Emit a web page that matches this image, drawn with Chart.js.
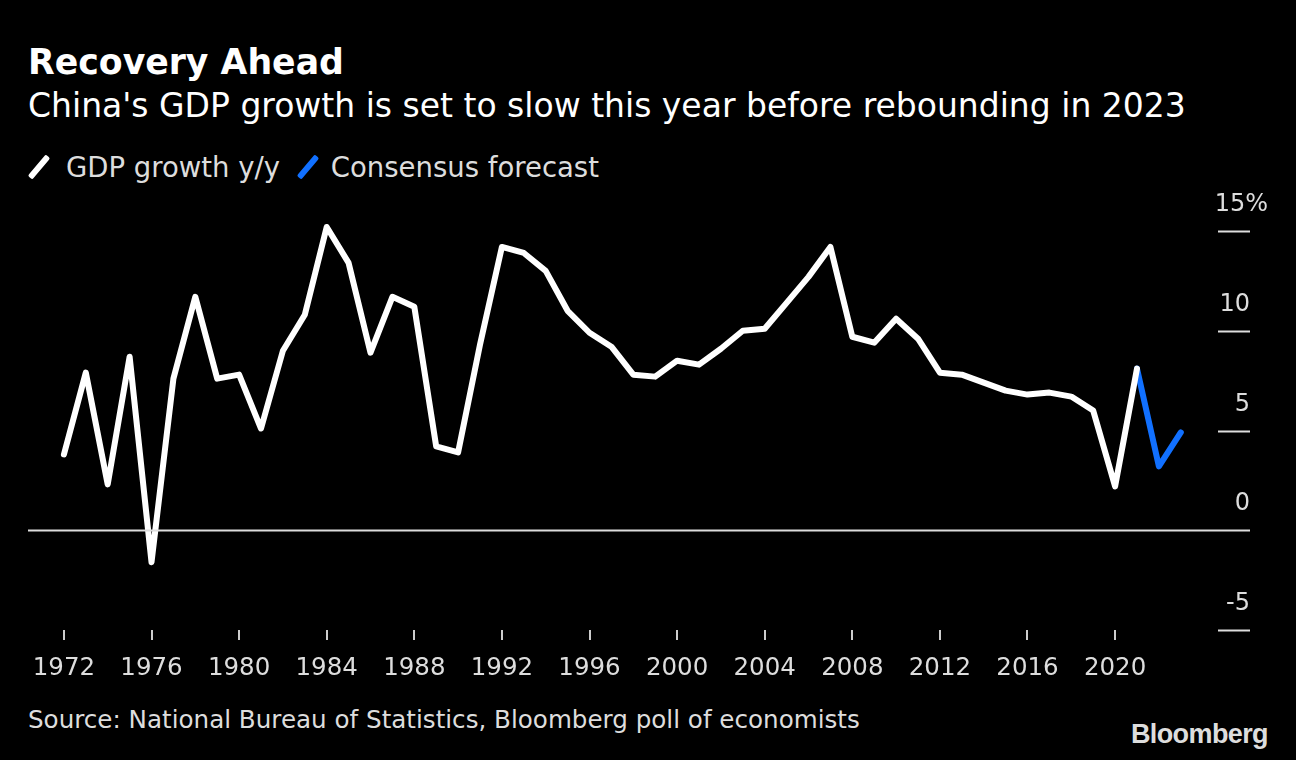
<!DOCTYPE html>
<html>
<head>
<meta charset="utf-8">
<script src="https://cdn.jsdelivr.net/npm/chart.js@4/dist/chart.umd.min.js"></script>
<style>
  html, body { margin: 0; padding: 0; background: #000; }
  body { width: 1296px; height: 760px; position: relative; overflow: hidden;
         font-family: "DejaVu Sans", sans-serif; color: #ddd; }
  .t { position: absolute; white-space: nowrap; line-height: 1; }
  #title { left: 28px; top: 45px; font-size: 34.7px; font-weight: bold; color: #fff; }
  #sub { left: 28px; top: 89px; font-size: 33px; color: #fff; }
  #legend { left: 28px; top: 153px; font-size: 27.5px; color: #ddd; }
  #legend span.sw { display: inline-block; width: 6px; height: 28px; vertical-align: -4px;
                    transform: rotate(40deg); margin: 0 24px 0 8px; border-radius: 2px; }
  #source { left: 28px; top: 708px; font-size: 24.6px; }
  #logo { right: 28px; top: 721px; font-size: 27px; font-weight: bold; letter-spacing: -0.6px;
          font-family: "Liberation Sans", Arial, sans-serif; color: #ddd; }
  #wrap { position: absolute; left: 0; top: 180px; width: 1296px; height: 510px; }
</style>
</head>
<body>
<div class="t" id="title">Recovery Ahead</div>
<div class="t" id="sub">China's GDP growth is set to slow this year before rebounding in 2023</div>
<div class="t" id="legend"><span class="sw" style="background:#fff"></span>GDP growth y/y <span class="sw" style="background:#1170ff;margin-left:16px;margin-right:20px"></span>Consensus forecast</div>
<div id="wrap"><canvas id="myChart"></canvas></div>
<div class="t" id="source">Source: National Bureau of Statistics, Bloomberg poll of economists</div>
<div class="t" id="logo">Bloomberg</div>
<script>
var years = [1972, 1973, 1974, 1975, 1976, 1977, 1978, 1979, 1980, 1981, 1982, 1983,
             1984, 1985, 1986, 1987, 1988, 1989, 1990, 1991, 1992, 1993, 1994, 1995,
             1996, 1997, 1998, 1999, 2000, 2001, 2002, 2003, 2004, 2005, 2006, 2007,
             2008, 2009, 2010, 2011, 2012, 2013, 2014, 2015, 2016, 2017, 2018, 2019,
             2020, 2021];
var gdpGrowth = [3.8, 7.9, 2.3, 8.7, -1.6, 7.6, 11.7, 7.6, 7.8, 5.1, 9.0, 10.8,
                 15.2, 13.4, 8.9, 11.7, 11.2, 4.2, 3.9, 9.3, 14.2, 13.9, 13.0, 11.0,
                 9.9, 9.2, 7.8, 7.7, 8.5, 8.3, 9.1, 10.0, 10.1, 11.4, 12.7, 14.2,
                 9.7, 9.4, 10.6, 9.6, 7.9, 7.8, 7.4, 7.0, 6.8, 6.9, 6.7, 6.0,
                 2.2, 8.1];
var forecastYears = [2021, 2022, 2023];
var forecast = [8.1, 3.2, 4.9];
var xTicks = [1972, 1976, 1980, 1984, 1988, 1992, 1996, 2000, 2004, 2008, 2012, 2016, 2020];
var yTicks = [-5, 0, 5, 10, 15];

var fontFam = '"DejaVu Sans", sans-serif';

function toPoints(xs, ys) {
    return xs.map(function (x, i) { return { x: x, y: ys[i] }; });
}

// right-side value labels with short rules, plus the zero line
var yAxisPlugin = {
    id: 'yAxisMarks',
    afterDatasetsDraw: function (chart) {
        var ctx = chart.ctx;
        var y = chart.scales.y;
        var area = chart.chartArea;
        ctx.save();
        ctx.font = '24px ' + fontFam;
        ctx.textAlign = 'right';
        ctx.textBaseline = 'middle';
        yTicks.forEach(function (v) {
            var py = Math.round(y.getPixelForValue(v)) + 0.5;
            ctx.strokeStyle = '#ddd';
            ctx.lineWidth = 2;
            ctx.beginPath();
            ctx.moveTo(v === 0 ? area.left : area.right - 32, py);
            ctx.lineTo(area.right, py);
            ctx.stroke();
            ctx.fillStyle = '#ddd';
            ctx.fillText(v === 15 ? '15%' : String(v), area.right + (v === 15 ? 18 : 0), py - 27);
        });
        ctx.restore();
    }
};

var myChart = document.getElementById('myChart').getContext('2d');
var lineChart = new Chart(myChart, {
    type: 'line',
    data: {
        datasets: [{
            label: 'GDP growth y/y',
            data: toPoints(years, gdpGrowth),
            borderColor: '#fff',
            borderWidth: 6,
            pointRadius: 0,
            borderJoinStyle: 'round',
            borderCapStyle: 'round',
            clip: false
        }, {
            label: 'Consensus forecast',
            data: toPoints(forecastYears, forecast),
            borderColor: '#1170ff',
            borderWidth: 6,
            pointRadius: 0,
            borderJoinStyle: 'round',
            borderCapStyle: 'round',
            clip: false
        }]
    },
    options: {
        responsive: true,
        maintainAspectRatio: false,
        animation: false,
        layout: { padding: { left: 28, right: 46, top: 51, bottom: 0 } },
        plugins: { legend: { display: false }, tooltip: { enabled: false } },
        scales: {
            x: {
                type: 'linear',
                min: 1970.36,
                max: 2026.16,
                afterBuildTicks: function (s) { s.ticks = xTicks.map(function (v) { return { value: v }; }); },
                afterFit: function (s) { s.height = 60; },
                border: { display: false },
                grid: { drawOnChartArea: false, drawTicks: true, tickLength: 10, color: '#ccc', lineWidth: 2 },
                ticks: { color: '#ddd', font: { family: fontFam, size: 24.5 }, padding: 14, maxRotation: 0,
                         autoSkip: false, callback: function (v) { return String(v); } }
            },
            y: {
                display: false,
                min: -5,
                max: 15
            }
        }
    },
    plugins: [yAxisPlugin]
});
</script>
</body>
</html>
